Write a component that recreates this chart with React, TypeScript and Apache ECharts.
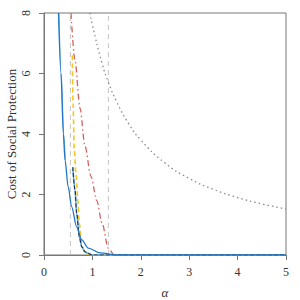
import React, { useEffect, useRef } from "react";
import * as echarts from "echarts";

const xTicks = [0, 1, 2, 3, 4, 5];
const yTicks = [0, 2, 4, 6, 8];
const yTitle = "Cost of Social Protection";

const blueAlpha = [0.3, 0.35, 0.4, 0.434, 0.5, 0.57, 0.675, 0.78, 0.915, 1.16, 1.5, 5];
const blueValue = [8, 6, 4, 3.14, 2.25, 1.6, 0.93, 0.5, 0.23, 0.07, 0.0, 0];

const lightBlueAlpha = [0.307, 0.357, 0.407, 0.44];
const lightBlueValue = [8, 6, 4, 3.14];

const navyAlpha = [0.595, 0.64, 0.675, 0.73, 0.78, 0.85, 1.0, 5];
const navyValue = [2.9, 2.15, 1.38, 0.6, 0.27, 0.1, 0.0, 0];

const yellowAlpha = [0.585, 0.6, 0.625, 0.66, 0.7, 0.73, 0.78, 0.85, 1.0, 5];
const yellowValue = [6.6, 5, 3.5, 2.7, 1.8, 1.05, 0.3, 0.05, 0, 0];

const redAlpha = [0.558, 0.64, 0.744, 0.847, 0.97, 1.09, 1.2, 1.33, 1.45, 5];
const redValue = [8, 6.43, 4.85, 3.6, 2.6, 1.8, 1.05, 0.22, 0, 0];

const dottedAlpha = [0.95, 1.0, 1.2, 1.33, 1.5, 1.75, 2, 2.5, 3, 3.5, 4, 4.5, 5];
const dottedValue = [8, 7.6, 6.33, 5.71, 5.07, 4.34, 3.8, 3.04, 2.53, 2.17, 1.9, 1.69, 1.52];

const vlineAlphas = [0.545, 1.33];

const zip = (a: number[], b: number[]) => a.map((x, i) => [x, b[i]]);

const serif = "'Liberation Serif', 'DejaVu Serif', serif";

export default function App() {
  const ref = useRef<HTMLDivElement>(null);
  useEffect(() => {
    if (!ref.current) return;
    const chart = echarts.init(ref.current, undefined, { renderer: "svg" });
    const lineSeries = (data: number[][], color: string, type: any, width = 1.2, z = 2, mono = true) => ({
      type: "line",
      data,
      showSymbol: false,
      symbol: "none",
      smooth: mono ? 0.3 : 0.5,
      smoothMonotone: mono ? "x" : undefined,
      z,
      lineStyle: { color, width, type },
    });
    chart.setOption({
      animation: false,
      grid: {
        left: 44,
        right: 14,
        top: 13,
        bottom: 45,
        show: true,
        containLabel: false,
        outerBoundsMode: "none",
        borderColor: "#777",
        borderWidth: 1,
      },
      graphic: [
        {
          type: "text",
          x: 11,
          y: 134,
          rotation: Math.PI / 2,
          style: {
            text: yTitle,
            fontFamily: serif,
            fontSize: 13,
            fill: "#333",
            align: "center",
            verticalAlign: "middle",
          },
        },
      ],
      xAxis: {
        type: "value",
        min: xTicks[0],
        max: xTicks[xTicks.length - 1],
        interval: 1,
        name: "α",
        nameLocation: "middle",
        nameGap: 31,
        nameTextStyle: { fontFamily: serif, fontStyle: "italic", fontSize: 13, color: "#333" },
        axisLine: { show: true, onZero: false, lineStyle: { color: "#777" } },
        axisTick: { show: true, length: 5, lineStyle: { color: "#777" } },
        axisLabel: { fontFamily: serif, fontSize: 12, color: "#333", margin: 11 },
        splitLine: { show: false },
      },
      yAxis: {
        type: "value",
        min: yTicks[0],
        max: yTicks[yTicks.length - 1],
        interval: 2,
        axisLine: { show: true, onZero: false, lineStyle: { color: "#777" } },
        axisTick: { show: true, length: 5, lineStyle: { color: "#777" } },
        axisLabel: { fontFamily: serif, fontSize: 12, color: "#333", rotate: 90, margin: 12 },
        splitLine: { show: false },
      },
      series: [
        ...vlineAlphas.map((a) => ({
          type: "line",
          data: [
            [a, yTicks[0]],
            [a, yTicks[yTicks.length - 1]],
          ],
          showSymbol: false,
          symbol: "none",
          z: 1,
          lineStyle: { color: "#c4c4c4", width: 1, type: [5, 4] },
        })),
        lineSeries(zip(dottedAlpha, dottedValue), "#8a8a8a", [1.5, 3], 1.3, 2, false),
        lineSeries(zip(redAlpha, redValue), "#d9605a", [6, 3, 1.5, 3], 1.3),
        lineSeries(zip(yellowAlpha, yellowValue), "#f2c81a", [5, 3], 1.6),
        lineSeries(zip(navyAlpha, navyValue), "#6fb2e4", "solid", 1.6, 2),
        lineSeries(zip(navyAlpha, navyValue), "#1d2d4e", [4, 2], 1.1, 3),
        lineSeries(zip(lightBlueAlpha, lightBlueValue), "#6fb2e4", "solid", 1.2),
        lineSeries(zip(blueAlpha, blueValue), "#1f76c6", "solid", 1.3, 3),
      ],
    });
    return () => chart.dispose();
  }, []);
  return (
    <div
      ref={ref}
      style={{ position: "fixed", left: 0, top: 0, width: 300, height: 300, background: "#fff" }}
    />
  );
}
